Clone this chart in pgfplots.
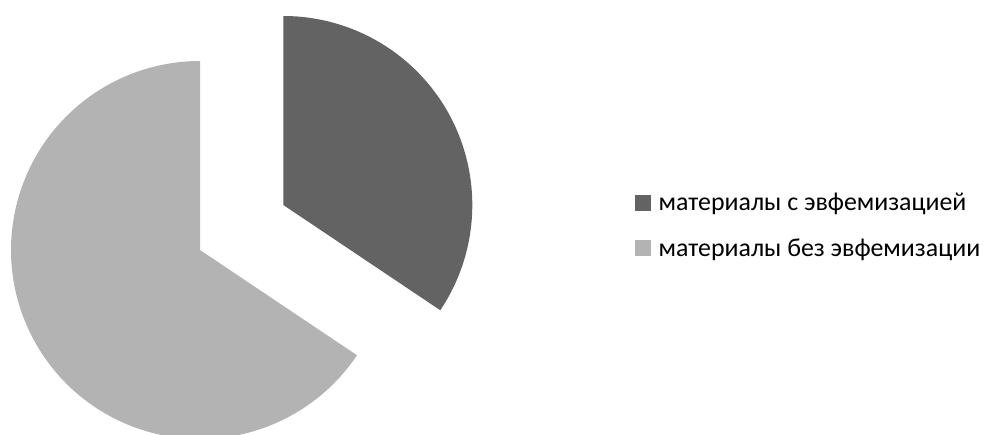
\documentclass[border=0pt]{standalone}
\usepackage{fontspec}
\setmainfont{Carlito}
\usepackage{pgfplots}
\pgfplotsset{compat=1.18}
\definecolor{darkg}{HTML}{636363}
\definecolor{lightg}{HTML}{B3B3B3}
% slice values (percent)
\def\valA{34.4}
\def\valB{65.6}
\begin{document}
\begin{tikzpicture}
\begin{axis}[
  scale only axis, width=742.5pt, height=326.25pt,
  xmin=0, xmax=990, ymin=0, ymax=435,
  hide axis, clip=true,
  legend style={at={(axis cs:634.3,245)}, anchor=north west, draw=none, fill=none,
    inner sep=0pt,
    font=\fontsize{19.4}{23.3}\selectfont, row sep=15.5pt,
    /tikz/every even column/.append style={column sep=0pt}},
  legend cell align=left,
  legend image code/.code={\fill[#1] (0pt,-6pt) rectangle (12pt,6pt); \path (16pt,0pt);},
]
\addplot[fill=darkg, draw=none, domain={90-3.6*\valA}:90, samples=150, variable=\t]
  ({283.3+189*cos(t)}, {230+189*sin(t)}) -- (axis cs:283.3,230) -- cycle;
\addlegendentry{материалы с эвфемизацией}
\addplot[fill=lightg, draw=none, domain=90:{90+3.6*\valB}, samples=250, variable=\t]
  ({200+189*cos(t)}, {185+189*sin(t)}) -- (axis cs:200,185) -- cycle;
\addlegendentry{материалы без эвфемизации}
\end{axis}
\pgfresetboundingbox
\path (current axis.south west) rectangle (current axis.north east);
\end{tikzpicture}
\end{document}
